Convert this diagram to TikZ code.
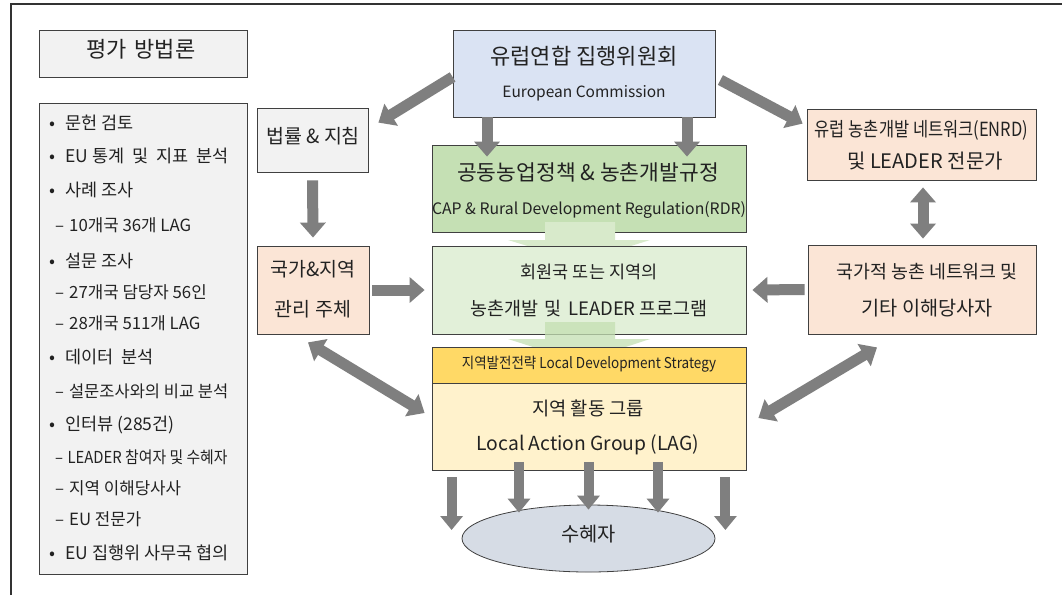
\documentclass[tikz,border=0pt]{standalone}
\usepackage{fontspec}
\setmainfont{Noto Sans CJK KR}
\usetikzlibrary{arrows.meta,shapes.geometric}
\definecolor{frame}{HTML}{333333}
\definecolor{boxline}{HTML}{404040}
\definecolor{grayfill}{HTML}{F2F2F2}
\definecolor{ecfill}{HTML}{DAE3F3}
\definecolor{capfill}{HTML}{C5E0B4}
\definecolor{memfill}{HTML}{E2F0D9}
\definecolor{peach}{HTML}{FBE5D6}
\definecolor{gold}{HTML}{FFD966}
\definecolor{cream}{HTML}{FFF2CC}
\definecolor{benfill}{HTML}{D6DCE5}
\definecolor{arrowgray}{HTML}{7F7F7F}
\definecolor{txt}{HTML}{222222}
\definecolor{lightarrow1}{HTML}{D8EACB}
\definecolor{lightarrow2}{HTML}{C4DFB2}
\tikzset{
  box/.style={draw=boxline, line width=0.8pt, inner sep=0pt},
  lbl/.style={inner sep=0pt, text height=.75em, text depth=0pt, text=txt},
  bigarrow/.style={draw=arrowgray, line width=11pt, -{Triangle[width=25pt,length=15pt]}},
  dblarrow/.style={draw=arrowgray, line width=11pt, {Triangle[width=25pt,length=15pt]}-{Triangle[width=25pt,length=15pt]}},
  downarrow/.style={draw=arrowgray, line width=10pt, -{Triangle[width=22pt,length=14pt]}},
}
\newcommand{\fs}[1]{\fontsize{#1}{#1}\selectfont}
\newcommand{\bul}{\makebox[12pt]{•}\hspace{7pt}}
\newcommand{\dsh}{–\hspace{5pt}}
\newcommand{\wsp}{\hspace{0.45em}}
\newcommand{\msp}{\hspace{0.35em}}
\begin{document}
\begin{tikzpicture}[x=1pt,y=-1pt]
\useasboundingbox (0,0) rectangle (1062,595);
\fill[white] (0,0) rectangle (1062,595);
\draw[frame, line width=1.6pt] (11,595) -- (11,4) -- (1062,4);

% left column
\node[box, fill=grayfill, minimum width=208pt, minimum height=47pt] (method) at (143,53.5) {};
\node[lbl, font=\fs{22}] (methodt) at (141,54) {평가\msp 방법론};
\node[box, fill=grayfill, minimum width=208pt, minimum height=471pt] (list) at (143,338.5) {};
\begin{scope}[every node/.style={lbl, anchor=west}]
\node[font=\fs{17.5}] (l1) at (46,126) {\bul 문헌 검토};
\node[font=\fs{17.5}] (l2) at (46,158.5) {\bul EU 통계\wsp 및\wsp 지표\wsp 분석};
\node[font=\fs{17.5}] (l3) at (46,192.5) {\bul 사례 조사};
\node[font=\fs{16.8}] (l4) at (55,228) {\dsh 10개국 36개 LAG};
\node[font=\fs{17.5}] (l5) at (46,263.5) {\bul 설문 조사};
\node[font=\fs{16.8}] (l6) at (55,294.5) {\dsh 27개국 담당자 56인};
\node[font=\fs{16.8}] (l7) at (55,325.5) {\dsh 28개국 511개 LAG};
\node[font=\fs{17.5}] (l8) at (46,360) {\bul 데이터\wsp 분석};
\node[font=\fs{16.5}] (l9) at (55,394) {\dsh 설문조사와의 비교 분석};
\node[font=\fs{17.5}] (l10) at (46,426.5) {\bul 인터뷰 (285건)};
\node[font=\fs{16.5}] (l11) at (55,460) {\scalebox{0.9}[1]{\dsh LEADER 참여자 및 수혜자}};
\node[font=\fs{16.8}] (l12) at (55,491) {\dsh 지역 이해당사사};
\node[font=\fs{16.8}] (l13) at (55,521.5) {\dsh EU 전문가};
\node[font=\fs{17.5}] (l14) at (46,556) {\bul EU 집행위 사무국 협의};
\end{scope}

% boxes
\node[box, fill=ecfill, minimum width=262pt, minimum height=87pt] (ec) at (584,73.5) {};
\node[box, fill=grayfill, minimum width=111pt, minimum height=64pt] (law) at (312.5,140) {};
\node[box, fill=capfill, minimum width=314pt, minimum height=87pt] (cap) at (589,188.5) {};
\fill[lightarrow1] (545,222) -- (615,222) -- (615,240) -- (650,240) -- (580,262) -- (508,240) -- (545,240) -- cycle;
\node[box, fill=memfill, minimum width=314pt, minimum height=88pt] (mem) at (589,290) {};
\fill[lightarrow2, opacity=0.75] (545,322) -- (615,322) -- (615,339) -- (650,339) -- (580,362) -- (508,339) -- (545,339) -- cycle;
\node[box, fill=peach, minimum width=112pt, minimum height=88pt] (natreg) at (313,290) {};
\node[box, fill=gold, minimum width=314pt, minimum height=36pt] (laghead) at (589,365) {};
\node[box, fill=cream, minimum width=314pt, minimum height=87pt] (lag) at (589,426.5) {};
\node[box, fill=peach, minimum width=229pt, minimum height=71pt] (enrd) at (921.5,144.5) {};
\node[box, fill=peach, minimum width=228pt, minimum height=89pt] (natnet) at (922,289.5) {};
\node[box, ellipse, fill=benfill, minimum width=253pt, minimum height=67pt] (ben) at (588.5,538.5) {};

% texts
\node[lbl, font=\fs{22}] (ect1) at (584,61) {유럽연합 집행위원회};
\node[lbl, font=\fs{15.5}] (ect2) at (584,94) {European Commission};
\node[lbl, font=\fs{19.5}] (lawt) at (313,140) {법률 \& 지침};
\node[lbl, font=\fs{21.5}] (capt1) at (588,177) {공동농업정책 \& 농촌개발규정};
\node[lbl, font=\fs{15.8}] (capt2) at (589,211) {CAP \& Rural Development Regulation(RDR)};
\node[lbl, font=\fs{17.5}] (memt1) at (589,275) {회원국 또는 지역의};
\node[lbl, font=\fs{18.5}] (memt2) at (589,312) {농촌개발\msp 및\msp LEADER 프로그램};
\node[lbl, font=\fs{19.5}] (natregt1) at (313,273) {국가\&지역};
\node[lbl, font=\fs{19.5}] (natregt2) at (313,313) {관리 주체};
\node[lbl, font=\fs{15}] (lagheadt) at (589,365) {\scalebox{0.9}[1]{지역발전전략 Local Development Strategy}};
\node[lbl, font=\fs{18.7}] (lagt1) at (588,412) {지역 활동 그룹};
\node[lbl, font=\fs{19.3}] (lagt2) at (588,447) {Local Action Group (LAG)};
\node[lbl, font=\fs{19.5}] (enrdt1) at (921.5,133) {\scalebox{0.845}[1]{유럽 농촌개발 네트워크(ENRD)}};
\node[lbl, font=\fs{20}] (enrdt2) at (925,165) {및 LEADER 전문가};
\node[lbl, font=\fs{18.4}] (natnett1) at (927,275) {국가적 농촌 네트워크 및};
\node[lbl, font=\fs{19.7}] (natnett2) at (927,312) {기타 이해당사자};
\node[lbl, font=\fs{19.8}] (bent) at (588.5,538) {수혜자};

% arrows
\draw[bigarrow] ([yshift=-3.5pt]ec.west) -- ([xshift=10pt,yshift=-15pt]law.north east);
\draw[bigarrow] ([xshift=5pt,yshift=-6.5pt]ec.east) -- ([xshift=-4pt,yshift=-15pt]enrd.north west);
\draw[bigarrow] ([xshift=-97pt]ec.south) -- ([xshift=-102pt,yshift=-12pt]cap.north);
\draw[bigarrow] ([xshift=103pt]ec.south) -- ([xshift=98pt,yshift=-12pt]cap.north);
\draw[bigarrow] ([yshift=-8pt]law.south) -- ([yshift=8pt]natreg.north);
\draw[bigarrow] ([xshift=3pt]natreg.east) -- ([xshift=-7pt]mem.west);
\draw[bigarrow] ([xshift=-3pt]natnet.west) -- ([xshift=6pt]mem.east);
\draw[dblarrow] ([xshift=1.5pt,yshift=-7pt]enrd.south) -- ([xshift=1pt,yshift=6pt]natnet.north);
\draw[dblarrow] ([xshift=-5pt,yshift=-8pt]natreg.south) -- ([xshift=-7pt,yshift=13.5pt]lag.west);
\draw[dblarrow] ([xshift=-45pt,yshift=-13pt]natnet.south) -- ([xshift=12pt,yshift=8.5pt]lag.east);
\draw[downarrow] ([xshift=20pt,yshift=-7pt]lag.south west) -- ([xshift=-10pt,yshift=8.5pt]ben.west);
\draw[downarrow] ([xshift=-70pt,yshift=8.5pt]lag.south) -- ([xshift=-69.5pt,yshift=-8pt]ben.north);
\draw[downarrow] ([xshift=-0.5pt,yshift=8.5pt]lag.south) -- ([yshift=-5pt]ben.north);
\draw[downarrow] ([xshift=69pt,yshift=8.5pt]lag.south) -- ([xshift=69.5pt,yshift=-8pt]ben.north);
\draw[downarrow] ([xshift=-21pt,yshift=-7pt]lag.south east) -- ([xshift=10pt,yshift=8.5pt]ben.east);
\end{tikzpicture}
\end{document}
